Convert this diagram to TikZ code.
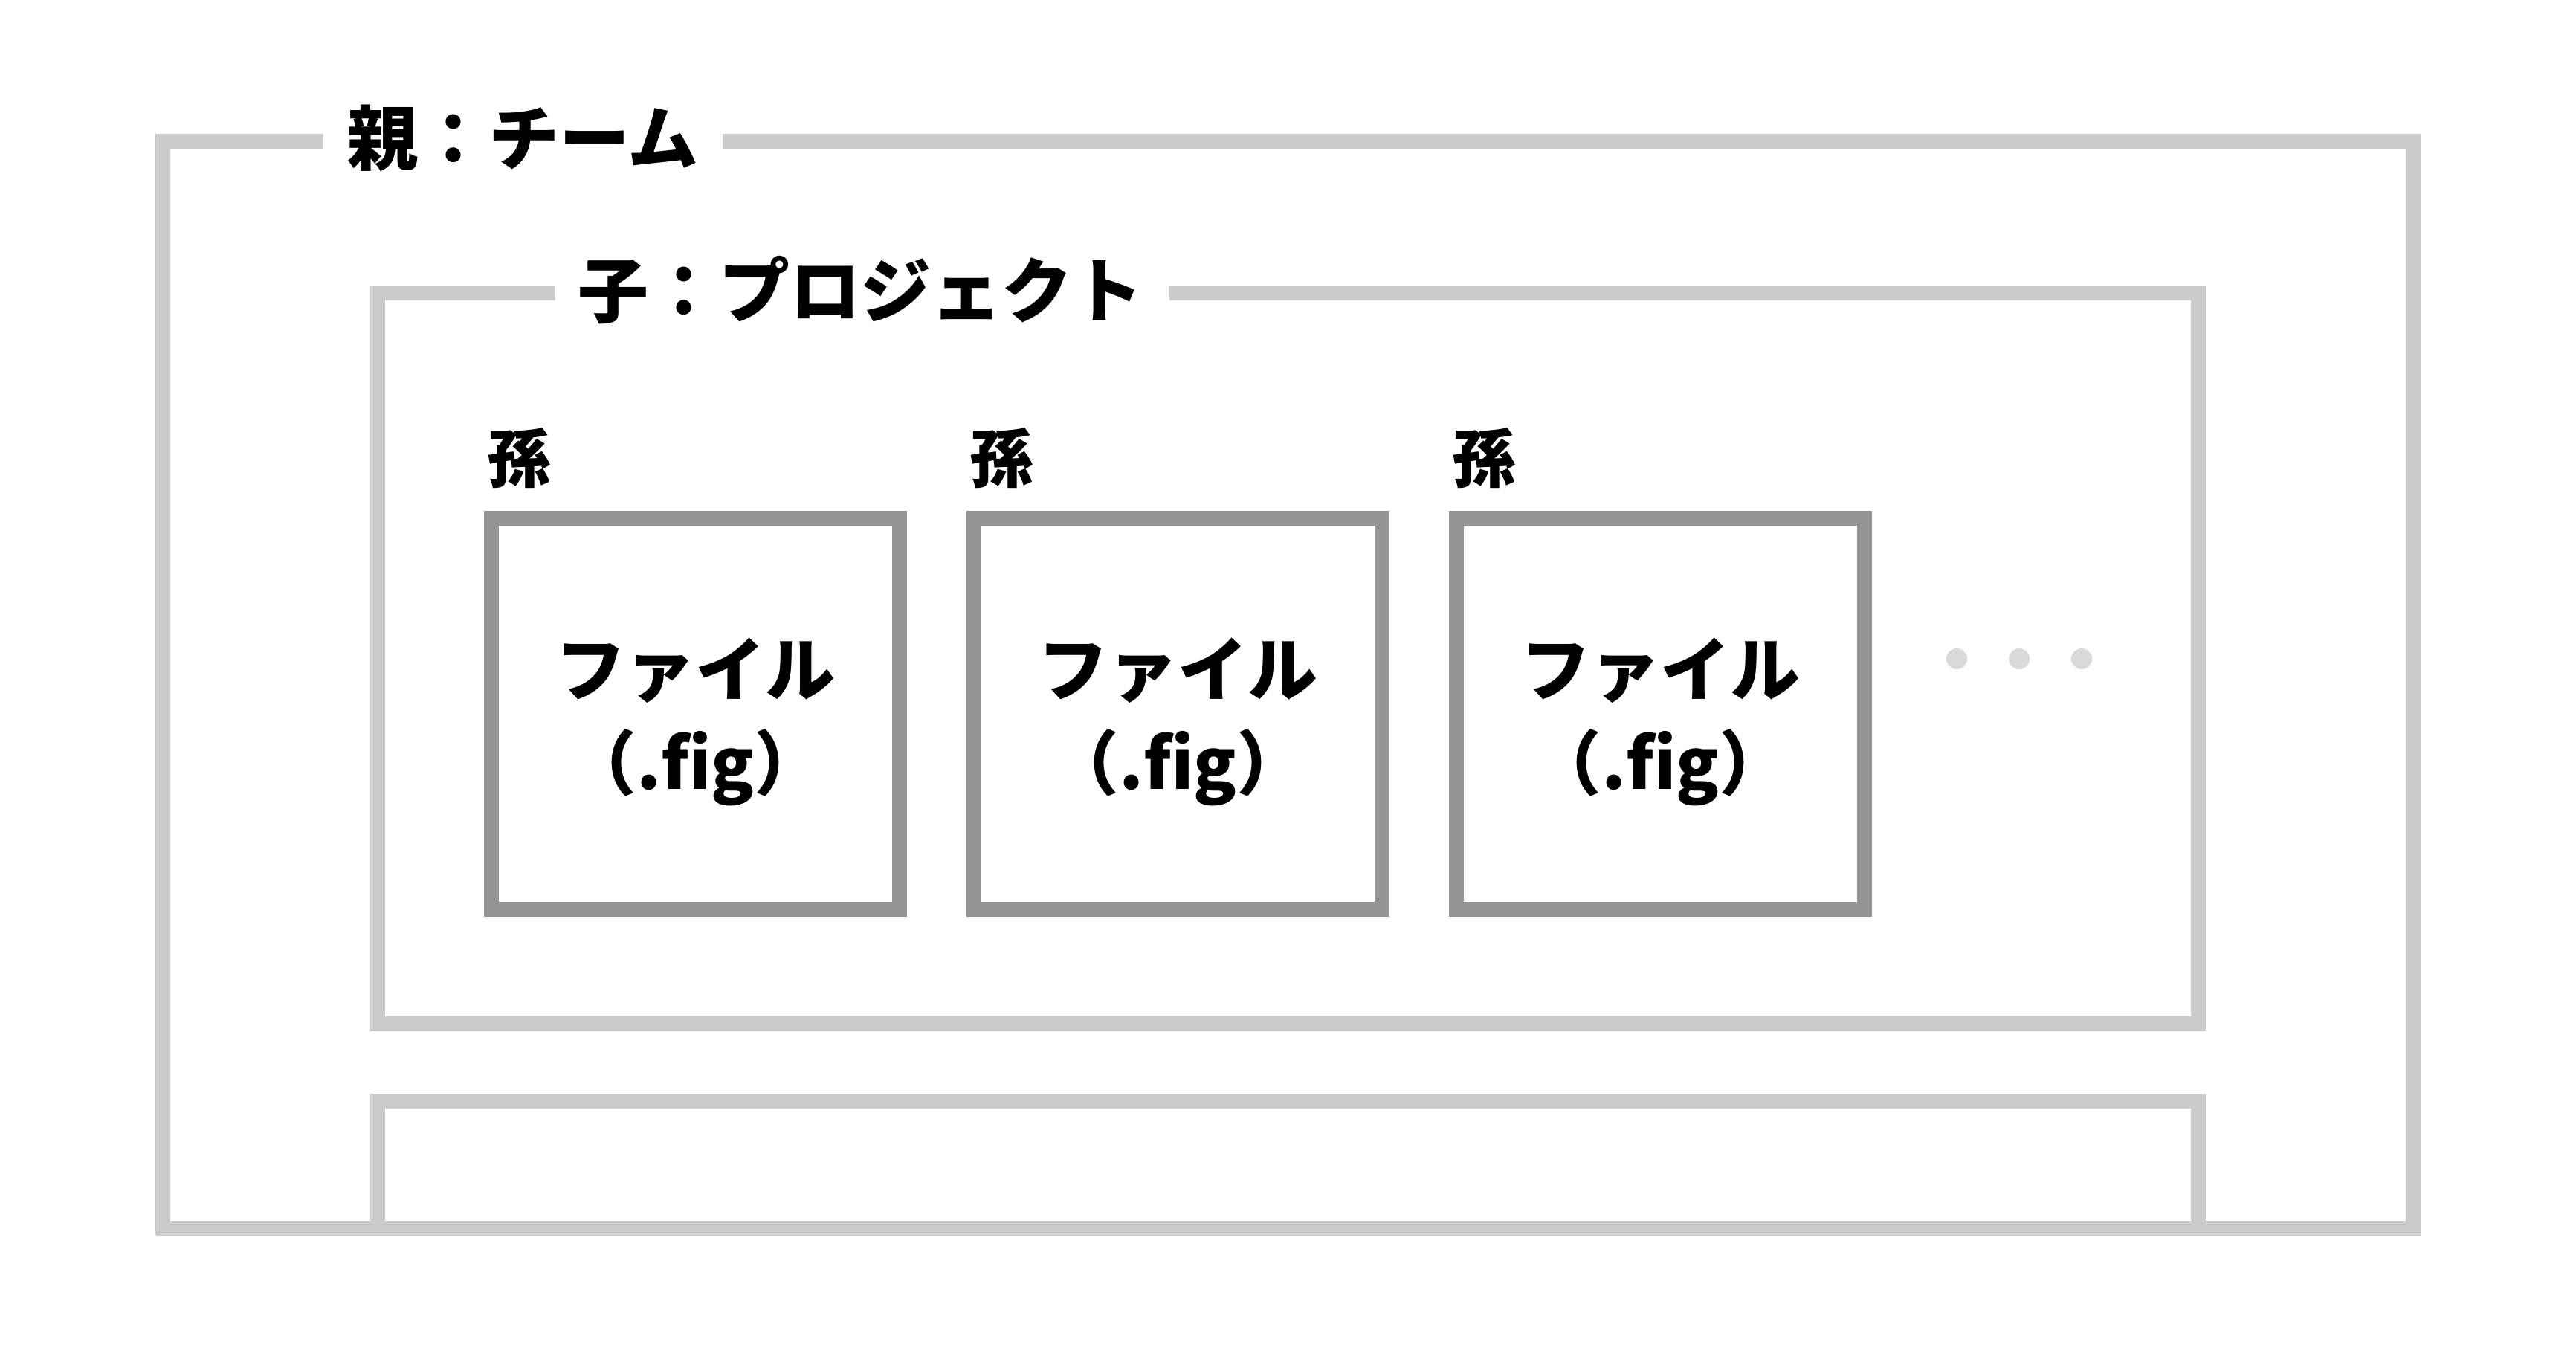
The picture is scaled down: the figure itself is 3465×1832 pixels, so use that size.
\documentclass[tikz,border=0pt]{standalone}
\usepackage{fontspec}
\setmainfont{Noto Sans CJK JP}
\definecolor{framegray}{HTML}{CBCBCB}
\definecolor{boxgray}{HTML}{959595}
\definecolor{dotgray}{HTML}{D9D9D9}
\begin{document}
\begin{tikzpicture}[x=1pt,y=-1pt,
  frameline/.style={draw=framegray,line width=20pt,line join=miter},
  filebox/.style={draw=boxgray,line width=20pt,minimum width=549pt,minimum height=526pt,inner sep=0pt},
  titletext/.style={inner sep=0pt,font=\fontsize{95}{114}\selectfont\bfseries},
  grandtext/.style={inner sep=0pt,font=\fontsize{86}{100}\selectfont\bfseries},
  filetext/.style={inner sep=0pt,font=\fontsize{94}{112}\selectfont\bfseries},
  dotmark/.style={circle,fill=dotgray,inner sep=0pt,minimum size=28pt}]
\useasboundingbox (0,0) rectangle (3465,1832);
\fill[white] (0,0) rectangle (3465,1832);
% outer frame (team)
\draw[frameline] (435,190) -- (219,190) -- (219,1652) -- (3246,1652) -- (3246,190) -- (972,190);
\node[titletext] (team) at (703.5,186) {親：チーム};
% project frame
\draw[frameline] (747,394) -- (508,394) -- (508,1377) -- (2957,1377) -- (2957,394) -- (1573,394);
\node[titletext] (project) at (1157,390) {子：プロジェクト};
% second project (partial)
\draw[frameline] (508,1652) -- (508,1481) -- (2957,1481) -- (2957,1652);
% files
\foreach \i/\cx in {1/935.5,2/1584.5,3/2233.5} {
  \node[filebox] (box\i) at (\cx,960) {};
  \node[filetext] (file\i) at (\cx,902) {ファイル};
  \node[filetext] (ext\i) at (\cx,1032) {（.fig）};
  \node[grandtext] (grand\i) at (\cx-237.5,616) {孫};
}
\node[dotmark] (dot1) at (2632,886) {};
\node[dotmark] (dot2) at (2716,886) {};
\node[dotmark] (dot3) at (2800,886) {};
\end{tikzpicture}
\end{document}
